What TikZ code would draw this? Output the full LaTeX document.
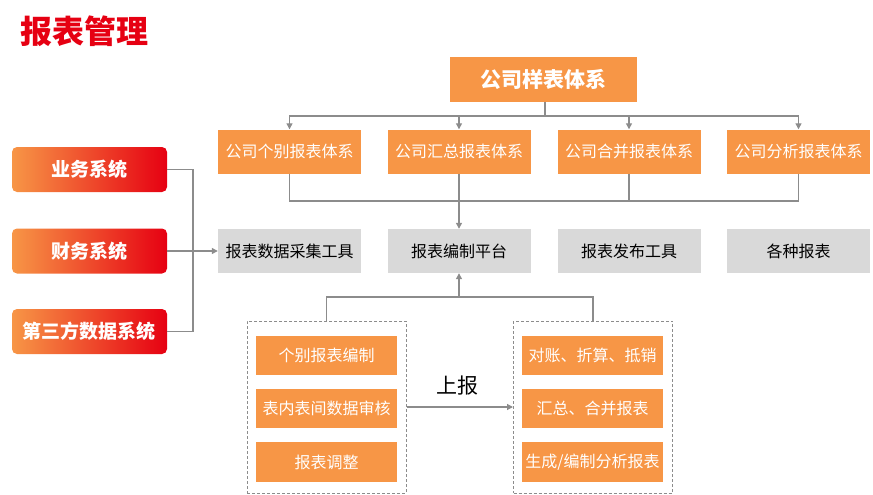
\documentclass[tikz,border=0pt]{standalone}
\usepackage{fontspec}
\setmainfont{Noto Sans CJK SC}
\usetikzlibrary{arrows.meta}
\definecolor{org}{HTML}{F79646}
\definecolor{gbox}{HTML}{D9D9D9}
\definecolor{ln}{HTML}{8C8C8C}
\definecolor{ttl}{HTML}{E60012}
\begin{document}
\begin{tikzpicture}[x=1pt,y=-1pt,
  obox/.style={fill=org, text=white, font=\fontsize{16}{18}\selectfont, minimum width=143pt, minimum height=44pt, inner sep=0pt},
  gbx/.style={fill=gbox, text=black, font=\fontsize{16}{18}\selectfont, minimum width=143pt, minimum height=44pt, inner sep=0pt},
  ibox/.style={fill=org, text=white, font=\fontsize{16}{18}\selectfont, minimum width=141pt, minimum height=39.5pt, inner sep=0pt},
  lbox/.style={rounded corners=5pt, left color=org, right color=ttl, text=white, font=\bfseries\fontsize{19}{22}\selectfont, minimum width=155pt, minimum height=45pt, inner sep=0pt},
  dbox/.style={draw=ln, line width=1pt, dash pattern=on 3pt off 2pt, minimum width=159pt, minimum height=172pt, inner sep=0pt},
  conn/.style={draw=ln, line width=1.2pt},
  arr/.style={conn, -{Triangle[width=6pt,length=6pt]}}
]
\useasboundingbox (0,0) rectangle (873,495);
\node[anchor=west, text=ttl, font=\bfseries\fontsize{32}{36}\selectfont] (title) at (17,31) {报表管理};

\node[fill=org, text=white, font=\bfseries\fontsize{21}{24}\selectfont, minimum width=187pt, minimum height=44pt, inner sep=0pt] (top) at (543.5,79.5) {公司样表体系};

\node[obox] (b1) at (289.5,151.5) {公司个别报表体系};
\node[obox] (b2) at (459,151.5) {公司汇总报表体系};
\node[obox] (b3) at (629,151.5) {公司合并报表体系};
\node[obox] (b4) at (798.5,151.5) {公司分析报表体系};

\node[gbx] (g1) at (289.5,251) {报表数据采集工具};
\node[gbx] (g2) at (459,251) {报表编制平台};
\node[gbx] (g3) at (629,251) {报表发布工具};
\node[gbx] (g4) at (798.5,251) {各种报表};

\node[lbox] (s1) at (89.5,169.5) {业务系统};
\node[lbox] (s2) at (89.5,251) {财务系统};
\node[lbox] (s3) at (89.5,331.5) {第三方数据系统};

\node[dbox] (L) at (326.5,407) {};
\node[dbox] (R) at (593,407) {};

\node[ibox] (l1) at (326.5,355.5) {个别报表编制};
\node[ibox] (l2) at (326.5,408.5) {表内表间数据审核};
\node[ibox] (l3) at (326.5,462) {报表调整};
\node[ibox] (r1) at (592.5,355.5) {对账、折算、抵销};
\node[ibox] (r2) at (592.5,408.5) {汇总、合并报表};
\node[ibox] (r3) at (592.5,462) {生成/编制分析报表};

\node[font=\fontsize{21}{24}\selectfont] (up) at (457,386) {上报};

% top tree
\coordinate (tj) at (545,116);
\draw[conn] (top.south -| tj) -- (tj);
\draw[arr] (tj) -| (b1.north);
\draw[arr] (tj) -| (b2.north);
\draw[arr] (tj) -| (b3.north);
\draw[arr] (tj) -| (b4.north);

% merge to platform
\coordinate (bj) at (459,201);
\draw[conn] (b1.south) |- (bj);
\draw[conn] (b3.south) |- (bj);
\draw[conn] (b4.south) |- (bj);
\draw[arr] (b2.south) -- (g2.north);

% left systems
\coordinate (lj) at (193,251);
\draw[conn] (s1.east) -| (lj);
\draw[conn] (s3.east) -| (lj);
\draw[arr] (s2.east) -- (g1.west);

% bottom
\coordinate (bt) at (459,297);
\draw[conn] (L.north) |- (bt);
\draw[conn] (R.north) |- (bt);
\draw[arr] (bt) -- (g2.south);
\draw[arr] (L.east) -- (R.west);
\end{tikzpicture}
\end{document}
